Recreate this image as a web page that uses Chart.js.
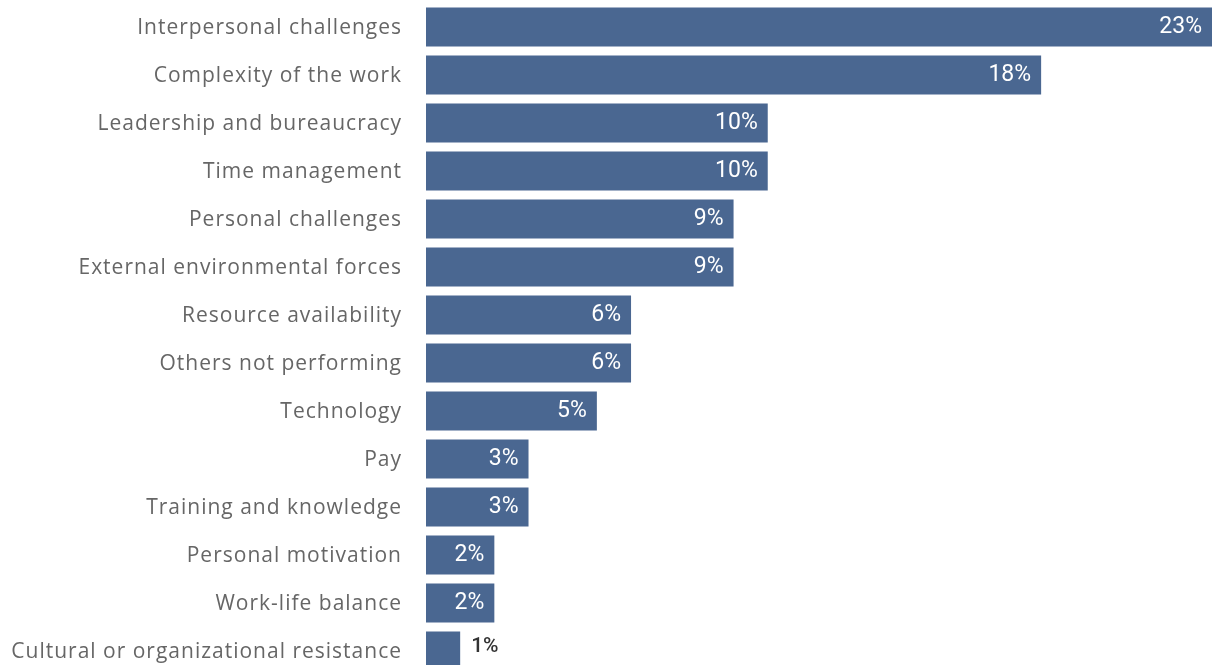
<!DOCTYPE html>
<html>
<head>
<meta charset="utf-8">
<script src="https://cdn.jsdelivr.net/npm/chart.js@4"></script>
<style>
  html, body { margin: 0; padding: 0; background: #fff; overflow: hidden; }
  #wrap { width: 1219px; height: 676px; position: relative; }
</style>
</head>
<body>
<div id="wrap"><canvas id="challengeChart"></canvas></div>
<script>
// Share of responses per challenge, in percent
const categories = [
  "Interpersonal challenges",
  "Complexity of the work",
  "Leadership and bureaucracy",
  "Time management",
  "Personal challenges",
  "External environmental forces",
  "Resource availability",
  "Others not performing",
  "Technology",
  "Pay",
  "Training and knowledge",
  "Personal motivation",
  "Work-life balance",
  "Cultural or organizational resistance"
];
const shares = [23, 18, 10, 10, 9, 9, 6, 6, 5, 3, 3, 2, 2, 1];

const barColor = "#4a6791";

// wider tracking for the category labels, nudged a little lower
const labelSpacing = {
  id: "labelSpacing",
  beforeDraw(chart) {
    chart.ctx.save();
    chart.ctx.letterSpacing = "1px";
    chart.ctx.translate(1, 1.5);
  },
  beforeDatasetsDraw(chart) {
    chart.ctx.restore();
    chart.ctx.letterSpacing = "0px";
  }
};

// writes the percentage inside the bar end, or just past it when the bar is too short
const valueLabels = {
  id: "valueLabels",
  afterDatasetsDraw(chart) {
    const ctx = chart.ctx;
    const meta = chart.getDatasetMeta(0);
    ctx.save();
    ctx.letterSpacing = "0px";
    ctx.textBaseline = "middle";
    meta.data.forEach((bar, i) => {
      const text = shares[i] + "%";
      ctx.font = "23px Roboto";
      const w = ctx.measureText(text).width;
      const len = bar.x - bar.base;
      if (len > w + 16) {
        ctx.fillStyle = "#ffffff";
        ctx.textAlign = "right";
        ctx.fillText(text, bar.x - 10, bar.y);
      } else {
        ctx.font = "500 21px Roboto";
        ctx.fillStyle = "#333333";
        ctx.textAlign = "left";
        ctx.fillText(text, bar.x + 11, bar.y - 4);
      }
    });
    ctx.restore();
  }
};

const ctx = document.getElementById("challengeChart").getContext("2d");
const chart = new Chart(ctx, {
  type: "bar",
  data: {
    labels: categories,
    datasets: [{
      data: shares,
      backgroundColor: barColor,
      borderWidth: 0,
      barPercentage: 0.81,
      categoryPercentage: 1
    }]
  },
  options: {
    indexAxis: "y",
    responsive: true,
    maintainAspectRatio: false,
    animation: false,
    layout: { padding: { top: 3, bottom: 1, right: 7, left: 0 } },
    plugins: {
      legend: { display: false },
      tooltip: { enabled: false }
    },
    scales: {
      x: {
        display: false,
        min: 0,
        max: 23
      },
      y: {
        grid: { display: false, drawTicks: false },
        border: { display: false },
        afterFit(axis) {
          axis.width = 426;
          axis.paddingTop = 0;
          axis.paddingBottom = 0;
        },
        ticks: {
          padding: 25,
          color: "#666666",
          font: { family: "'Open Sans', sans-serif", size: 21 }
        }
      }
    }
  },
  plugins: [labelSpacing, valueLabels]
});
</script>
</body>
</html>
